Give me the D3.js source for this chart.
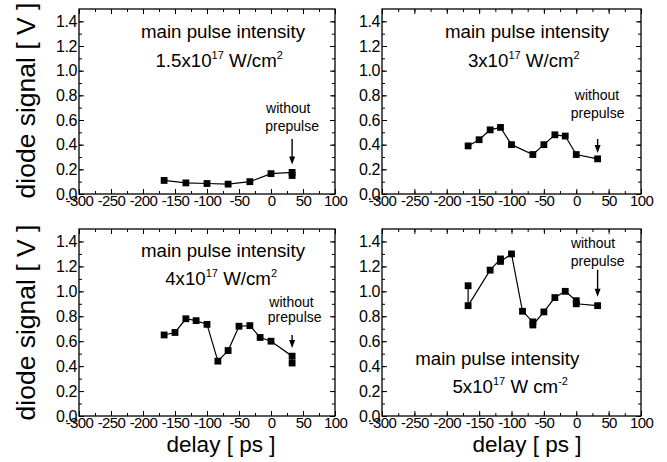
<!DOCTYPE html>
<html>
<head>
<meta charset="utf-8">
<script src="https://cdn.jsdelivr.net/npm/d3@7"></script>
<style>
  html, body { margin: 0; padding: 0; background: #fff; }
  svg { display: block; font-family: "Liberation Sans", Arial, sans-serif; }
</style>
</head>
<body>
<svg id="chart" width="667" height="462"></svg>
<script>
// ---------------- data ----------------
const xTicks = [-300, -250, -200, -150, -100, -50, 0, 50, 100];
const yTicks = [0.0, 0.2, 0.4, 0.6, 0.8, 1.0, 1.2, 1.4];

const delay1  = [-167, -133, -100, -67, -33, 0, 33, 33];
const signal1 = [0.11, 0.09, 0.085, 0.08, 0.10, 0.165, 0.175, 0.15];

const delay2  = [-167, -150, -133, -117, -100, -67, -50, -33, -17, 0, 33];
const signal2 = [0.39, 0.44, 0.52, 0.54, 0.40, 0.32, 0.40, 0.48, 0.47, 0.32, 0.285];

const delay3  = [-167, -150, -133, -117, -100, -83, -67, -50, -33, -17, 0, 33, 33];
const signal3 = [0.65, 0.67, 0.78, 0.765, 0.735, 0.44, 0.525, 0.72, 0.725, 0.63, 0.60, 0.48, 0.425];

const delay4  = [-167, -167, -133, -117, -117, -100, -83, -67, -67, -50, -33, -17, 0, 0, 33];
const signal4 = [1.045, 0.885, 1.17, 1.26, 1.24, 1.30, 0.84, 0.755, 0.73, 0.835, 0.95, 1.0, 0.925, 0.90, 0.885];

const titles = [
  ["1.5x10", "17", " W/cm", "2"],
  ["3x10", "17", " W/cm", "2"],
  ["4x10", "17", " W/cm", "2"],
  ["5x10", "17", " W cm", "-2"]
];
const titleLine1 = "main pulse intensity";
const noteLines = ["without", "prepulse"];
const yTitle = "diode signal [ V ]";
const xTitle = "delay [ ps ]";

// ---------------- layout ----------------
const FONT = "'Liberation Sans', Arial, sans-serif";
const panels = [
  { d: delay1, v: signal1, x0: 79,  x1: 335, y0: 194, y1: 9,
    t1: [-75, 1.265], t2: [-81, 1.03], n1: [27, 0.657], n2: [33, 0.51], arrow: [33, 0.446, 0.24] },
  { d: delay2, v: signal2, x0: 382, x1: 641, y0: 194, y1: 9,
    t1: [-76, 1.265], t2: [-81, 1.03], n1: [32, 0.762], n2: [33, 0.616], arrow: [33, 0.446, 0.333] },
  { d: delay3, v: signal3, x0: 79,  x1: 335, y0: 416, y1: 229,
    t1: [-75, 1.277], t2: [-78, 1.052], n1: [32, 0.875], n2: [37, 0.755], arrow: [33, 0.65, 0.546] },
  { d: delay4, v: signal4, x0: 382, x1: 641, y0: 416, y1: 229,
    t1: [-122, 0.41], t2: [-102, 0.185], n1: [26, 1.35], n2: [33, 1.205], arrow: [33, 1.173, 0.956] }
];

const svg = d3.select("#chart");
const fmtX = v => String(v);               // plain hyphen minus
const fmtY = v => v.toFixed(1);

panels.forEach((p, i) => {
  const x = d3.scaleLinear().domain([-300, 100]).range([p.x0, p.x1]);
  const y = d3.scaleLinear().domain([0, 1.5]).range([p.y0, p.y1]);
  const g = svg.append("g");

  // frame
  g.append("rect").attr("x", p.x0).attr("y", p.y1)
    .attr("width", p.x1 - p.x0).attr("height", p.y0 - p.y1)
    .attr("fill", "none").attr("stroke", "#000").attr("stroke-width", 1.3);

  const xMinor = d3.range(-300, 101, 25);
  const yMinor = d3.range(0, 15).map(k => k / 10);

  const mkAxis = (axisFn, scale, values, size) =>
    axisFn(scale).tickValues(values).tickSize(size).tickFormat("");

  // inward ticks on all four sides
  const axes = [
    [d3.axisTop, x, xMinor, 3, `translate(0,${p.y0})`],
    [d3.axisTop, x, xTicks, 5, `translate(0,${p.y0})`],
    [d3.axisBottom, x, xMinor, 3, `translate(0,${p.y1})`],
    [d3.axisBottom, x, xTicks, 5, `translate(0,${p.y1})`],
    [d3.axisRight, y, yMinor, 3, `translate(${p.x0},0)`],
    [d3.axisRight, y, yTicks, 5, `translate(${p.x0},0)`],
    [d3.axisLeft, y, yMinor, 3, `translate(${p.x1},0)`],
    [d3.axisLeft, y, yTicks, 5, `translate(${p.x1},0)`]
  ];
  axes.forEach(([fn, sc, vals, sz, tr]) => {
    const a = g.append("g").attr("transform", tr).call(mkAxis(fn, sc, vals, sz));
    a.select(".domain").remove();
    a.selectAll("line").attr("stroke", "#000").attr("stroke-width", 1);
  });

  // tick labels
  g.append("g").attr("transform", `translate(0,${p.y0})`)
    .call(d3.axisBottom(x).tickValues(xTicks).tickSize(0).tickPadding(1).tickFormat(fmtX))
    .call(a => a.select(".domain").remove())
    .selectAll("text").attr("font-size", 15).attr("letter-spacing", -0.6)
    .attr("fill", "#000").attr("font-family", FONT);

  g.append("g").attr("transform", `translate(${p.x0},0)`)
    .call(d3.axisLeft(y).tickValues(yTicks).tickSize(0).tickPadding(2).tickFormat(fmtY))
    .call(a => a.select(".domain").remove())
    .selectAll("text").attr("font-size", 16).attr("letter-spacing", -0.4)
    .attr("fill", "#000").attr("font-family", FONT);

  // data line and markers
  const pts = p.d.map((dv, k) => [dv, p.v[k]]);
  g.append("path").datum(pts)
    .attr("d", d3.line().x(q => x(q[0])).y(q => y(q[1])))
    .attr("fill", "none").attr("stroke", "#000").attr("stroke-width", 1.2);
  g.selectAll("rect.pt").data(pts).enter().append("rect").attr("class", "pt")
    .attr("x", q => x(q[0]) - 3.4).attr("y", q => y(q[1]) - 3.4)
    .attr("width", 6.8).attr("height", 6.8).attr("fill", "#000");

  // title
  g.append("text").attr("x", x(p.t1[0])).attr("y", y(p.t1[1]))
    .attr("text-anchor", "middle").attr("font-size", 18.7).attr("fill", "#000")
    .attr("font-family", FONT).text(titleLine1);
  const t2 = g.append("text").attr("x", x(p.t2[0])).attr("y", y(p.t2[1]))
    .attr("text-anchor", "middle").attr("font-size", 18.7).attr("fill", "#000")
    .attr("font-family", FONT);
  const parts = titles[i];
  t2.append("tspan").text(parts[0]);
  t2.append("tspan").attr("font-size", 11).attr("dy", -8).text(parts[1]);
  t2.append("tspan").attr("dy", 8).text(parts[2]);
  t2.append("tspan").attr("font-size", 11).attr("dy", -8).text(parts[3]);

  // note + arrow
  g.append("text").attr("x", x(p.n1[0])).attr("y", y(p.n1[1]))
    .attr("text-anchor", "middle").attr("font-size", 14).attr("fill", "#000")
    .attr("font-family", FONT).text(noteLines[0]);
  g.append("text").attr("x", x(p.n2[0])).attr("y", y(p.n2[1]))
    .attr("text-anchor", "middle").attr("font-size", 14).attr("fill", "#000")
    .attr("font-family", FONT).text(noteLines[1]);
  const ax = x(p.arrow[0]), ay1 = y(p.arrow[1]), ay2 = y(p.arrow[2]);
  g.append("line").attr("x1", ax).attr("x2", ax).attr("y1", ay1).attr("y2", ay2 - 6)
    .attr("stroke", "#000").attr("stroke-width", 1.4);
  g.append("path")
    .attr("d", `M${ax - 3},${ay2 - 8} L${ax + 3},${ay2 - 8} L${ax},${ay2} Z`)
    .attr("fill", "#000");
});

// axis titles
[100.5, 322.5].forEach(cy => {
  svg.append("text").attr("transform", `translate(35,${cy}) rotate(-90)`)
    .attr("text-anchor", "middle").attr("font-size", 26.5).attr("fill", "#000")
    .attr("font-family", FONT).text(yTitle);
});
[221, 527].forEach(cx => {
  svg.append("text").attr("x", cx).attr("y", 452)
    .attr("text-anchor", "middle").attr("font-size", 22.5).attr("fill", "#000")
    .attr("font-family", FONT).text(xTitle);
});
</script>
</body>
</html>
